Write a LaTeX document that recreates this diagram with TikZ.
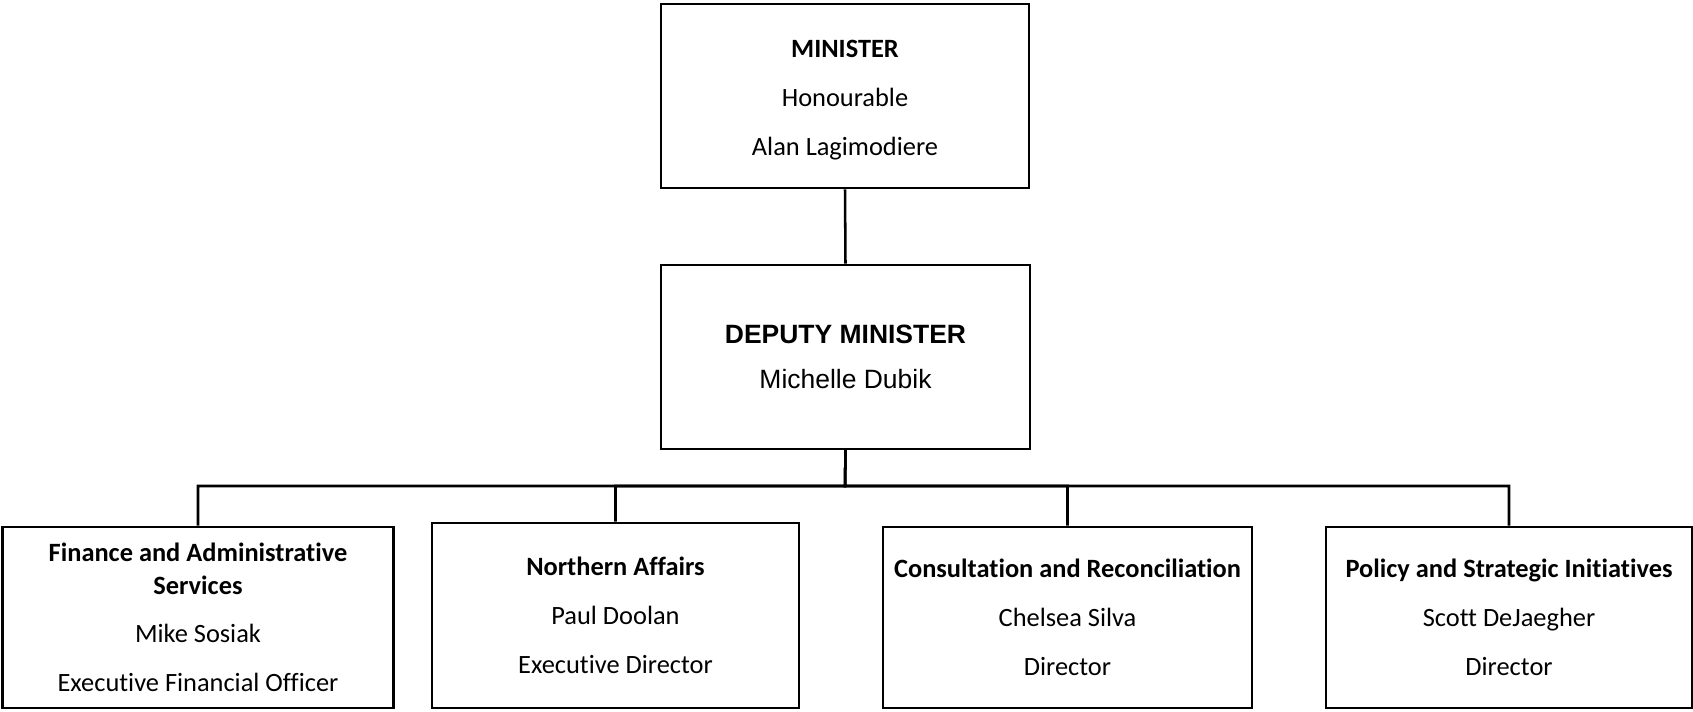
\documentclass[tikz,border=0pt]{standalone}
\usepackage{fontspec}
\setmainfont{Carlito}[Ligatures=NoCommon]
\newfontfamily\arialfont{Liberation Sans}
\begin{document}
\begin{tikzpicture}[x=0.75pt, y=-0.75pt, line width=1.9pt,
    jabatan/.style={draw, rectangle, inner sep=0pt, align=center,
        font=\fontsize{19.8}{36.75}\selectfont},
    bawah/.style={jabatan, minimum height=135.75pt}]
\useasboundingbox (0,0) rectangle (1693,711);

    % Menteri dan wakil menteri
    \node[jabatan, minimum width=276pt, minimum height=138pt] (min) at (845,96)
        {\rule{0pt}{19pt}\textbf{MINISTER}\\Honourable\\Alan Lagimodiere};
    \node[jabatan, minimum width=276.75pt, minimum height=138pt,
        font=\arialfont\fontsize{19.85}{33.75}\selectfont] (dep) at (845.5,357)
        {\textbf{DEPUTY MINISTER}\\Michelle Dubik};

    % Direktorat
    \node[bawah, minimum width=293.25pt, font=\fontsize{19.8}{24.75}\selectfont] (fin) at (198,617.5)
        {\textbf{Finance and Administrative}\\\textbf{Services}\\[11.25pt]Mike Sosiak\\[12pt]Executive Financial Officer};
    \node[jabatan, minimum width=275.25pt, minimum height=138.75pt] (nor) at (615.5,615.5)
        {\textbf{Northern Affairs}\\Paul Doolan\\Executive Director};
    \node[bawah, minimum width=276.75pt] (kon) at (1067.5,617.5)
        {\textbf{Consultation and Reconciliation}\\Chelsea Silva\\Director};
    \node[bawah, minimum width=274.5pt] (pol) at (1509,617.5)
        {\textbf{Policy and Strategic Initiatives}\\Scott DeJaegher\\Director};

    % Garis hubungan
    \coordinate (bus) at (845,486);
    \draw (min.south) -- (dep.north);
    \draw (dep.south) -- (bus) -| (fin.north);
    \draw (dep.south) -- (bus) -| (nor.north);
    \draw (dep.south) -- (bus) -| (kon.north);
    \draw (dep.south) -- (bus) -| (pol.north);

\end{tikzpicture}
\end{document}
